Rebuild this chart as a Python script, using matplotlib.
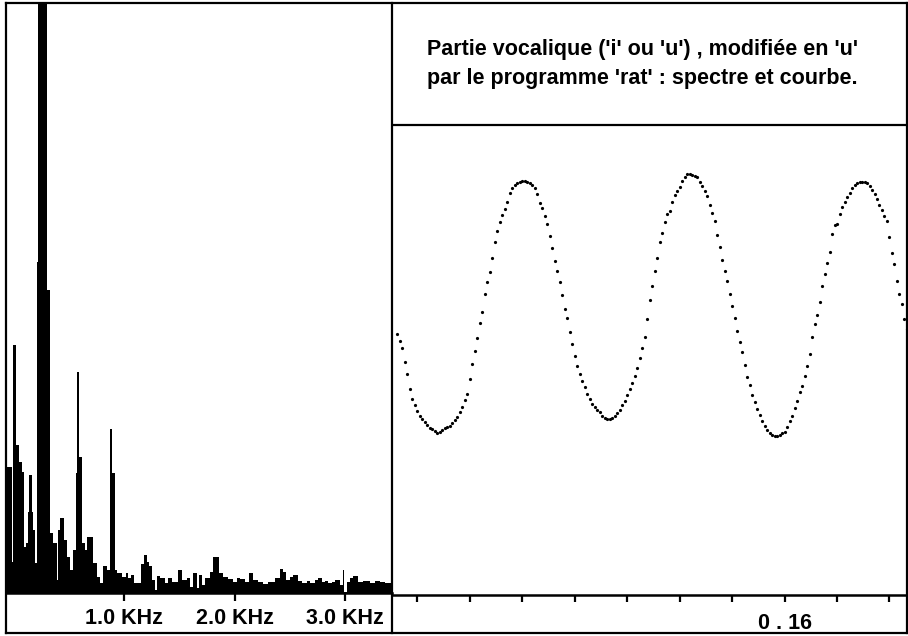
import numpy as np
import matplotlib.pyplot as plt

plt.rcParams['font.family'] = ['Liberation Sans', 'DejaVu Sans']

# spectre : debut de chaque bande (Hz) et hauteur
spec_hz = [-59, -11, -2, 23, 53, 74, 95, 113, 134, 143,
           170, 179, 195, 210, 215, 224, 303, 330, 360, 391,
           405, 421, 457, 481, 511, 541, 566, 577, 596, 617,
           647, 668, 722, 753, 783, 807, 849, 873, 889, 919,
           939, 979, 1018, 1036, 1063, 1091, 1154, 1181, 1208, 1226,
           1253, 1281, 1299, 1326, 1371, 1398, 1434, 1489, 1525, 1570,
           1597, 1624, 1661, 1679, 1706, 1733, 1778, 1805, 1860, 1896,
           1941, 1986, 2023, 2050, 2095, 2131, 2167, 2213, 2258, 2303,
           2367, 2412, 2439, 2466, 2502, 2530, 2575, 2611, 2656, 2683,
           2729, 2756, 2792, 2819, 2846, 2883, 2910, 2955, 2982, 2994,
           3018, 3045, 3073, 3118, 3163, 3226, 3272, 3317, 3362, 3425]
spec_amp = [126, 31, 248, 148, 131, 121, 46, 50, 81, 118,
            81, 63, 30, 106, 331, 640, 303, 60, 50, 13,
            63, 75, 53, 36, 23, 43, 120, 221, 136, 50,
            43, 56, 30, 16, 10, 27, 23, 164, 120, 23,
            20, 16, 20, 15, 18, 10, 29, 38, 31, 27,
            13, 3, 17, 15, 10, 15, 11, 23, 13, 15,
            6, 20, 5, 18, 8, 15, 21, 36, 20, 16,
            14, 11, 15, 14, 11, 20, 13, 11, 9, 11,
            15, 24, 21, 13, 16, 18, 12, 10, 12, 10,
            13, 15, 11, 12, 10, 11, 13, 8, 23, 1,
            11, 15, 17, 11, 12, 10, 12, 11, 10, 10]
spec_ticks = [1000, 2000, 3000]
spec_labels = ['1.0 KHz', '2.0 KHz', '3.0 KHz']

# courbe : un point par echantillon
wave_y = [-27, -34, -41, -55, -67, -82, -92, -98, -104, -109,
          -112, -115, -118, -121, -122, -124, -126,
          -125, -123, -121, -120, -119, -116, -113, -110, -105, -100,
          -93, -87, -72, -57, -44, -31, -16, -5, 13, 25,
          35, 49, 65, 76, 85, 92, 98, 105, 114, 119,
          122, 124, 125, 126,
          126, 125, 124, 122, 119, 113, 104, 99, 91, 83,
          71, 59, 46, 36, 25, 12, -2, -11, -25, -37,
          -49, -59, -67, -74, -80, -87, -92, -97, -100, -103,
          -105, -109, -111, -112,
          -112, -111, -109, -106, -103, -98, -94, -88, -82, -76,
          -69, -61, -51, -41, -30, -12, 7, 21, 36, 49,
          65, 74, 85, 93, 96, 105, 112, 116, 120, 126,
          130, 133,
          133, 132, 131, 130, 125, 121, 116, 111, 102, 94,
          86, 72, 60, 47, 36, 26, 13, 1, -11, -24,
          -35, -45, -58, -70, -78, -88, -95, -102, -108, -114,
          -119, -123, -126, -128, -129, -129,
          -128, -126, -125, -120, -114, -109, -101, -94, -85, -79,
          -69, -59, -47, -30, -17, -8, 5, 21, 33, 44,
          55, 73, 82, 83, 93, 100, 105, 110, 114, 119,
          122, 124, 125, 125,
          125, 124, 121, 117, 113, 108, 102, 97, 91, 86,
          70, 54, 43, 26, 13, 3, -12, -22]
wave_ticks = [8, 29, 50, 71, 92, 113, 134, 155, 176, 197]
wave_labels = ['', '', '', '', '', '', '', '0 . 16', '', '']

line1 = "Partie vocalique ('i' ou 'u') , modifiée en 'u'"
line2 = "par le programme 'rat' : spectre et courbe."

fig = plt.figure(figsize=(9.08, 6.36), dpi=100)

# cadre exterieur
frame = fig.add_axes([6/908, 3/636, 901/908, 630/636])
frame.set_xticks([])
frame.set_yticks([])
for s in frame.spines.values():
    s.set_linewidth(1.6)

# spectre
ax1 = fig.add_axes([6/908, 3/636, 386/908, 630/636], facecolor='none')
ax1.fill_between(spec_hz, spec_amp, step='post', color='black', lw=0)
ax1.set_xlim(-68, 3425)
ax1.set_ylim(-40, 590)
ax1.spines['top'].set_visible(False)
ax1.spines['left'].set_visible(False)
ax1.spines['right'].set_linewidth(1.6)
ax1.spines['bottom'].set_position(('data', 0))
ax1.spines['bottom'].set_linewidth(1.8)
ax1.set_yticks([])
ax1.set_xticks(spec_ticks, spec_labels)
ax1.tick_params(axis='x', direction='out', length=6, width=1.6,
                pad=5, labelsize=15.5)
for lbl in ax1.get_xticklabels():
    lbl.set_fontweight('bold')

# courbe
ax2 = fig.add_axes([393/908, 3/636, 514/908, 630/636], facecolor='none')
ax2.plot(np.arange(len(wave_y)), wave_y, 'o', ms=2.3, color='black', mec='none')
ax2.set_xlim(-1.6, 204)
ax2.set_ylim(-326, 304)
ax2.axhline(182, color='black', lw=1.6)
for side in ['top', 'left', 'right']:
    ax2.spines[side].set_visible(False)
ax2.spines['bottom'].set_position(('data', -288))
ax2.spines['bottom'].set_linewidth(1.8)
ax2.set_yticks([])
ax2.set_xticks(wave_ticks, wave_labels)
ax2.tick_params(axis='x', direction='out', length=5, width=1.6,
                pad=8, labelsize=15.5)
for lbl in ax2.get_xticklabels():
    lbl.set_fontweight('bold')

fig.text(427/908, 1 - 55/636, line1, fontsize=15.5, fontweight='bold', va='baseline')
fig.text(427/908, 1 - 84/636, line2, fontsize=15.5, fontweight='bold', va='baseline')

fig.savefig('out.png', dpi=100)
